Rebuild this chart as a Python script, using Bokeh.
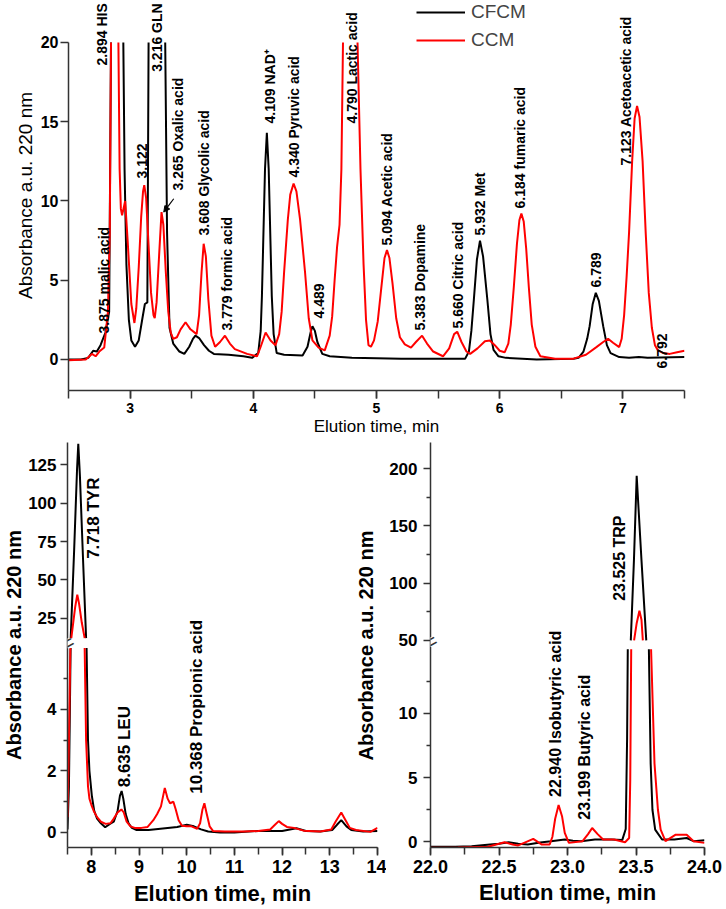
import math
from bokeh.plotting import figure
from bokeh.models import (Range1d, LinearAxis, SingleIntervalTicker, FixedTicker, ColumnDataSource,
                          LabelSet, Label, Arrow, NormalHead, PrintfTickFormatter)
from bokeh.layouts import column, row
from bokeh.embed import file_html
from bokeh.resources import INLINE
from bokeh.core.properties import value

NAN = float("nan")
FONT = "Liberation Sans"
AX = "#333333"
BLACK = "#000000"
RED = "#ff0000"

# ---------------- top panel data (elution time, absorbance) ----------------
top_cfcm = [(2.50, 0.00), (2.60, 0.00), (2.66, 0.10), (2.70, 0.55), (2.73, 0.50), (2.76, 0.90),
            (2.80, 1.70), (2.83, 3.00), (2.845, 20.0), (NAN, NAN),
            (2.945, 20.0), (2.955, 12.0), (2.97, 6.0), (2.99, 2.5), (3.01, 1.2), (3.04, 0.8),
            (3.07, 1.2), (3.10, 2.6), (3.12, 3.5), (3.14, 3.6), (3.15, 20.0), (NAN, NAN),
            (3.285, 20.0), (3.30, 8.0), (3.32, 2.0), (3.35, 1.0), (3.40, 0.5), (3.44, 0.35),
            (3.48, 0.8), (3.51, 1.3), (3.53, 1.5), (3.56, 1.35), (3.60, 0.9), (3.64, 0.55),
            (3.68, 0.35), (3.80, 0.30), (3.92, 0.20), (3.99, 0.10), (4.04, 0.4), (4.06, 1.8),
            (4.07, 4.0), (4.08, 7.2), (4.095, 12.0), (4.11, 14.3), (4.125, 12.0), (4.14, 7.2),
            (4.15, 4.0), (4.165, 1.6), (4.19, 0.4), (4.25, 0.3), (4.40, 0.25), (4.44, 0.8),
            (4.465, 1.7), (4.48, 2.1), (4.50, 1.8), (4.52, 1.1), (4.56, 0.35), (4.62, 0.2),
            (4.80, 0.1), (5.20, 0.05), (5.72, 0.05), (5.75, 0.5), (5.77, 1.8), (5.79, 3.75),
            (5.815, 6.3), (5.84, 7.5), (5.865, 6.5), (5.90, 3.75), (5.925, 1.6), (5.95, 0.6),
            (5.99, 0.2), (6.05, 0.1), (6.30, 0.0), (6.60, 0.05), (6.64, 0.1), (6.68, 0.5),
            (6.71, 1.3), (6.73, 2.1), (6.755, 3.5), (6.78, 4.2), (6.805, 3.7), (6.84, 2.1),
            (6.87, 0.9), (6.90, 0.4), (6.97, 0.15), (7.05, 0.1), (7.13, 0.15), (7.20, 0.1),
            (7.50, 0.15)]

top_ccm = [(2.50, -0.05), (2.64, 0.0), (2.69, 0.35), (2.72, 0.2), (2.75, 0.5), (2.79, 0.75),
           (2.82, 3.0), (2.835, 8.0), (2.845, 20.0), (NAN, NAN),
           (2.905, 20.0), (2.915, 12.0), (2.925, 9.5), (2.935, 9.1), (2.96, 10.0), (2.98, 7.5),
           (3.01, 3.5), (3.035, 2.3), (3.05, 3.2), (3.07, 5.8), (3.09, 9.0), (3.105, 10.6),
           (3.115, 11.0), (3.13, 10.2), (3.15, 7.2), (3.17, 4.2), (3.19, 2.8), (3.20, 2.6),
           (3.215, 3.6), (3.235, 6.5), (3.255, 9.3), (3.27, 8.5), (3.29, 5.5), (3.31, 3.0),
           (3.33, 1.7), (3.35, 1.3), (3.38, 1.4), (3.41, 1.9), (3.45, 2.35), (3.49, 1.9),
           (3.54, 1.6), (3.56, 2.8), (3.58, 5.5), (3.597, 7.3), (3.615, 6.5), (3.635, 3.8),
           (3.66, 1.5), (3.69, 0.8), (3.73, 1.1), (3.77, 1.5), (3.81, 1.0), (3.85, 0.65),
           (3.95, 0.35), (4.03, 0.2), (4.06, 0.8), (4.10, 1.7), (4.14, 1.2), (4.18, 0.9),
           (4.21, 1.6), (4.23, 3.0), (4.25, 5.5), (4.28, 8.8), (4.30, 10.4), (4.327, 11.1),
           (4.35, 10.6), (4.38, 8.8), (4.42, 5.5), (4.45, 2.6), (4.48, 1.2), (4.53, 0.75),
           (4.58, 0.57), (4.62, 1.5), (4.64, 2.7), (4.66, 5.0), (4.68, 7.1), (4.70, 8.5),
           (4.715, 12.0), (4.728, 20.0), (NAN, NAN),
           (4.846, 20.0), (4.87, 12.0), (4.895, 6.0), (4.915, 2.5), (4.935, 0.9), (4.955, 0.8),
           (4.98, 1.2), (5.01, 2.4), (5.04, 4.6), (5.065, 6.4), (5.085, 6.9), (5.105, 6.4),
           (5.13, 4.8), (5.16, 2.6), (5.19, 1.4), (5.23, 0.95), (5.28, 0.75), (5.32, 1.1),
           (5.37, 1.5), (5.41, 1.0), (5.46, 0.5), (5.54, 0.2), (5.59, 0.7), (5.63, 1.6),
           (5.655, 1.75), (5.69, 1.1), (5.73, 0.5), (5.76, 0.35), (5.82, 0.7), (5.88, 1.15),
           (5.92, 1.2), (5.96, 0.9), (6.00, 0.55), (6.04, 0.45), (6.07, 1.0), (6.09, 2.2),
           (6.115, 4.6), (6.14, 7.3), (6.16, 8.8), (6.176, 9.2), (6.195, 8.7), (6.215, 7.0),
           (6.236, 4.6), (6.26, 2.2), (6.29, 0.8), (6.33, 0.2), (6.45, 0.05), (6.60, 0.05),
           (6.70, 0.3), (6.785, 0.78), (6.84, 1.1), (6.88, 1.3), (6.92, 1.05), (6.97, 0.78),
           (6.99, 1.3), (7.01, 2.8), (7.03, 5.2), (7.05, 8.0), (7.075, 12.5), (7.095, 15.2),
           (7.115, 16.0), (7.135, 15.3), (7.16, 12.5), (7.185, 8.0), (7.21, 4.2), (7.235, 2.0),
           (7.26, 0.9), (7.285, 0.57), (7.33, 0.4), (7.38, 0.35), (7.44, 0.45), (7.50, 0.55)]

top_label_text = ["3.875 malic acid", "2.894 HIS", "3.122", "3.216 GLN", "3.265 Oxalic acid",
                  "3.608 Glycolic acid", "3.779 formic acid", "4.109 NAD\u207a", "4.340 Pyruvic acid",
                  "4.489", "4.790 Lactic acid", "5.094 Acetic acid", "5.383 Dopamine",
                  "5.660 Citric acid", "5.932 Met", "6.184 fumaric acid", "6.789",
                  "7.123 Acetoacetic acid", "6.792"]
top_label_t = [2.792, 2.773, 3.098, 3.219, 3.392, 3.597, 3.787, 4.133, 4.327, 4.530, 4.801,
               5.082, 5.357, 5.663, 5.839, 6.163, 6.785, 7.028, 7.320]
top_label_a = [1.64, 18.55, 11.42, 18.15, 10.66, 7.82, 1.83, 14.89, 11.48, 2.59, 14.89,
               7.19, 1.83, 1.96, 7.82, 9.53, 4.54, 12.24, -0.57]
oxalic_arrow = (3.354, 10.14, 3.273, 9.30)

# ---------------- bottom-left panel data (7.5 - 14 min) ----------------
bl_low_cfcm = [(7.50, 0.10), (7.53, 1.5), (7.55, 4.0), (7.565, 6.0), (NAN, NAN),
               (7.90, 6.0), (7.93, 3.0), (7.96, 2.0), (8.01, 1.2), (8.06, 0.7), (8.12, 0.45),
               (8.20, 0.3), (8.29, 0.17), (8.39, 0.28), (8.47, 0.35), (8.55, 0.7), (8.60, 1.2),
               (8.635, 1.35), (8.67, 1.1), (8.72, 0.6), (8.78, 0.3), (8.85, 0.15), (8.95, 0.08),
               (9.2, 0.08), (9.5, 0.13), (9.8, 0.18), (10.0, 0.25), (10.15, 0.2), (10.3, 0.1),
               (10.45, 0.03), (10.7, 0.0), (11.0, 0.0), (11.5, 0.05), (12.0, 0.05), (12.3, 0.14),
               (12.5, 0.05), (12.8, 0.03), (13.05, 0.08), (13.15, 0.25), (13.24, 0.4),
               (13.35, 0.2), (13.45, 0.08), (13.7, 0.03), (14.0, 0.05)]
bl_low_ccm = [(7.50, 0.5), (7.52, 2.0), (7.545, 4.5), (7.56, 6.0), (NAN, NAN),
              (7.86, 6.0), (7.89, 3.0), (7.93, 1.5), (7.96, 1.1), (8.00, 0.9), (8.05, 0.7),
              (8.12, 0.5), (8.20, 0.35), (8.30, 0.28), (8.40, 0.3), (8.47, 0.45), (8.55, 0.65),
              (8.63, 0.75), (8.68, 0.65), (8.74, 0.35), (8.82, 0.2), (8.91, 0.15), (9.05, 0.15),
              (9.18, 0.18), (9.30, 0.4), (9.38, 0.6), (9.46, 0.85), (9.54, 1.45), (9.60, 1.1),
              (9.65, 0.95), (9.72, 1.0), (9.77, 0.75), (9.83, 0.4), (9.90, 0.22), (10.0, 0.2),
              (10.1, 0.2), (10.22, 0.12), (10.28, 0.3), (10.33, 0.75), (10.37, 0.95),
              (10.42, 0.6), (10.48, 0.2), (10.55, 0.05), (10.8, 0.03), (11.2, 0.03),
              (11.5, 0.05), (11.75, 0.1), (11.85, 0.25), (11.93, 0.37), (12.0, 0.28),
              (12.1, 0.18), (12.25, 0.15), (12.45, 0.06), (12.8, 0.03), (13.03, 0.1),
              (13.12, 0.35), (13.24, 0.65), (13.33, 0.4), (13.42, 0.15), (13.55, 0.08),
              (13.85, 0.02), (14.0, 0.15)]
bl_up_cfcm = [(7.567, 12.0), (7.64, 70.0), (7.70, 122.0), (7.726, 138.8), (7.76, 118.0),
              (7.83, 60.0), (7.89, 12.0)]
bl_up_ccm = [(7.58, 12.0), (7.66, 32.0), (7.705, 40.3), (7.74, 35.0), (7.80, 22.0), (7.86, 12.0)]
bl_low_ticks = [0, 2, 4]
bl_low_minor = [1, 3, 5]
bl_up_ticks = [25, 50, 75, 100, 125]
bl_low_label_text = ["8.635 LEU", "10.368 Propionic acid"]
bl_low_label_t = [8.687, 10.212]
bl_low_label_a = [1.47, 1.26]
bl_up_label_text = ["7.718 TYR"]
bl_up_label_t = [8.047]
bl_up_label_a = [63.7]

# ---------------- bottom-right panel data (22 - 24 min) ----------------
br_low_cfcm = [(22.00, -0.38), (22.18, -0.38), (22.30, -0.35), (22.435, -0.2), (22.50, -0.15),
               (22.57, -0.03), (22.64, -0.15), (22.71, -0.2), (22.80, -0.05), (22.88, 0.05),
               (22.98, 0.18), (23.04, 0.08), (23.10, 0.05), (23.20, 0.18), (23.32, 0.18),
               (23.40, 0.15), (23.425, 1.0), (23.435, 8.0), (23.44, 15.0), (NAN, NAN),
               (23.594, 15.0), (23.607, 6.1), (23.62, 2.5), (23.64, 0.95), (23.69, 0.18),
               (23.78, 0.18), (23.87, 0.3), (23.92, 0.05), (24.00, 0.12)]
br_low_ccm = [(22.00, -0.46), (22.20, -0.44), (22.42, -0.38), (22.48, -0.2), (22.54, -0.03),
              (22.60, -0.2), (22.64, -0.28), (22.70, 0.0), (22.75, 0.23), (22.81, -0.2),
              (22.87, -0.2), (22.89, 0.4), (22.91, 1.8), (22.935, 2.87), (22.96, 2.0),
              (22.98, 0.7), (23.01, -0.08), (23.11, 0.05), (23.15, 0.6), (23.18, 1.08),
              (23.22, 0.6), (23.26, 0.18), (23.34, 0.18), (23.42, -0.03), (23.45, 0.3),
              (23.458, 4.8), (23.465, 15.0), (NAN, NAN), (23.61, 15.0), (23.635, 6.1),
              (23.66, 2.5), (23.68, 0.95), (23.715, 0.05), (23.79, 0.56), (23.87, 0.56),
              (23.92, 0.05), (24.00, -0.08)]
br_up_cfcm = [(23.462, 50.0), (23.485, 120.0), (23.505, 193.6), (23.54, 120.0), (23.575, 50.0)]
br_up_ccm = [(23.486, 50.0), (23.505, 65.0), (23.525, 75.9), (23.54, 68.0), (23.55, 50.0)]
br_low_ticks = [0, 5, 10]
br_low_minor = [2.5, 7.5, 12.5]
br_up_ticks = [50, 100, 150, 200]
br_up_minor = [75, 125, 175]
br_low_label_text = ["22.940 Isobutyric acid", "23.199 Butyric acid"]
br_low_label_t = [22.913, 23.123]
br_low_label_a = [3.5, 1.72]
br_up_label_text = ["23.525 TRP"]
br_up_label_t = [23.377]
br_up_label_a = [84.5]

Y_TITLE = "Absorbance a.u. 220 nm"
X_TITLE = "Elution time, min"


def xs(pts):
    return [p[0] for p in pts]


def ys(pts):
    return [p[1] for p in pts]


def up_to_low(v, lo, up):
    """Position (in the lower range) of a value of the upper range: both fill the same frame."""
    return lo.start + (v - up.start) * (lo.end - lo.start) / (up.end - up.start)


def style_axis(ax, tick_size, title_size=None, title_bold=False, tick_out=8, minor_out=0,
               label_standoff=3, title_standoff=3):
    ax.axis_line_color = AX
    ax.axis_line_width = 1.5
    ax.major_tick_line_color = AX
    ax.major_tick_line_width = 1.5
    ax.major_tick_in = 0
    ax.major_tick_out = tick_out
    ax.minor_tick_in = 0
    ax.minor_tick_out = minor_out
    ax.minor_tick_line_width = 1.5
    ax.minor_tick_line_color = AX if minor_out else None
    ax.major_label_text_font = FONT
    ax.major_label_text_font_size = tick_size
    ax.major_label_text_font_style = "bold"
    ax.major_label_text_color = BLACK
    ax.major_label_standoff = label_standoff
    if title_size:
        ax.axis_label_text_font = FONT
        ax.axis_label_text_font_size = title_size
        ax.axis_label_text_font_style = "bold" if title_bold else "normal"
        ax.axis_label_text_color = BLACK
        ax.axis_label_standoff = title_standoff


def peak_labels(fig, texts, ts, As, size, y_range_name="default"):
    src = ColumnDataSource(dict(x=ts, y=As, text=texts))
    ls = LabelSet(x="x", y="y", text="text", source=src, angle=math.pi / 2,
                  text_align="left", text_baseline="middle",
                  text_font=value(FONT), text_font_style=value("bold"),
                  text_font_size=value(size), text_color=BLACK,
                  y_range_name=y_range_name)
    fig.add_layout(ls)


def break_mark(fig, x, y):
    fig.add_layout(Label(x=x, y=y, text="  ", text_align="center", text_baseline="middle",
                         text_font=FONT, text_font_size="9px", background_fill_color="white",
                         background_fill_alpha=1.0))
    fig.add_layout(Label(x=x, y=y, text="=", angle=0.5, text_align="center",
                         text_baseline="middle", text_font=FONT, text_font_size="22px",
                         text_color=AX))


# ---------------- top figure ----------------
top = figure(width=726, height=438, x_range=Range1d(2.5, 7.5), y_range=Range1d(-1.96, 22.65),
             x_axis_type=None, y_axis_type=None, output_backend="svg", toolbar_location=None,
             min_border_left=68, min_border_right=42, min_border_top=0, min_border_bottom=48)
top.outline_line_color = None

tx = LinearAxis(ticker=SingleIntervalTicker(interval=1, num_minor_ticks=2), axis_label=X_TITLE)
style_axis(tx, "14px", "17px", False, tick_out=8, minor_out=8, label_standoff=4, title_standoff=1)
top.add_layout(tx, "below")
ty = LinearAxis(ticker=SingleIntervalTicker(interval=5, num_minor_ticks=0), bounds=(-1.96, 20),
                axis_label=Y_TITLE)
style_axis(ty, "16px", "19px", False, tick_out=8, label_standoff=2, title_standoff=2)
top.add_layout(ty, "left")

top.line(xs(top_cfcm), ys(top_cfcm), line_color=BLACK, line_width=2, legend_label="CFCM")
top.line(xs(top_ccm), ys(top_ccm), line_color=RED, line_width=2, legend_label="CCM")
peak_labels(top, top_label_text, top_label_t, top_label_a, "14px")
top.add_layout(Arrow(end=NormalHead(size=6, fill_color=BLACK, line_color=BLACK),
                     x_start=oxalic_arrow[0], y_start=oxalic_arrow[1],
                     x_end=oxalic_arrow[2], y_end=oxalic_arrow[3],
                     line_color=BLACK, line_width=1.2))

leg = top.legend[0]
leg.location = (348, 339)
leg.border_line_color = None
leg.background_fill_alpha = 0
leg.padding = 0
leg.margin = 0
leg.spacing = 6
leg.glyph_width = 49
leg.glyph_height = 20
leg.label_height = 20
leg.label_standoff = 6
leg.label_text_font = FONT
leg.label_text_font_size = "19px"

# ---------------- bottom-left figure ----------------
bl_lo = Range1d(-0.488, 12.68)
bl_up = Range1d(-124.6, 139.6)
bl = figure(width=386, height=471, x_range=Range1d(7.5, 14), y_range=bl_lo,
            x_axis_type=None, y_axis_type=None, output_backend="svg", toolbar_location=None,
            min_border_left=62, min_border_right=9, min_border_top=4, min_border_bottom=62)
bl.outline_line_color = None
bl.extra_y_ranges = {"up": bl_up}

blx = LinearAxis(ticker=SingleIntervalTicker(interval=1, num_minor_ticks=2), axis_label=X_TITLE)
style_axis(blx, "18px", "22px", True, tick_out=8, minor_out=7, label_standoff=4, title_standoff=5)
bl.add_layout(blx, "below")
bl_up_pos = [up_to_low(v, bl_lo, bl_up) for v in bl_up_ticks]
bly = LinearAxis(ticker=FixedTicker(ticks=bl_low_ticks + bl_up_pos, minor_ticks=bl_low_minor),
                 axis_label=Y_TITLE)
bly.major_label_overrides = {p: str(v) for p, v in zip(bl_up_pos, bl_up_ticks)}
style_axis(bly, "17px", "20px", True, tick_out=7, minor_out=4, label_standoff=4, title_standoff=0)
bl.add_layout(bly, "left")

bl.line(xs(bl_low_cfcm), ys(bl_low_cfcm), line_color=BLACK, line_width=2)
bl.line(xs(bl_up_cfcm), ys(bl_up_cfcm), line_color=BLACK, line_width=2, y_range_name="up")
bl.line(xs(bl_low_ccm), ys(bl_low_ccm), line_color=RED, line_width=2)
bl.line(xs(bl_up_ccm), ys(bl_up_ccm), line_color=RED, line_width=2, y_range_name="up")
peak_labels(bl, bl_low_label_text, bl_low_label_t, bl_low_label_a, "17px")
peak_labels(bl, bl_up_label_text, bl_up_label_t, bl_up_label_a, "17px", "up")
break_mark(bl, 7.5, 6.15)
# y-axis title of the right-hand panel (it sits over this panel's area in the original)
bl.add_layout(Label(x=13.75, y=6.08, text=Y_TITLE, angle=math.pi / 2, text_align="center",
                    text_baseline="middle", text_font=FONT, text_font_size="20px",
                    text_font_style="bold", text_color=BLACK))

# ---------------- bottom-right figure ----------------
br_lo = Range1d(-0.44, 31.1)
br_up = Range1d(-130.8, 222.7)
br = figure(width=340, height=471, x_range=Range1d(22.0, 24.0), y_range=br_lo,
            x_axis_type=None, y_axis_type=None, output_backend="svg", toolbar_location=None,
            min_border_left=42, min_border_right=22, min_border_top=0, min_border_bottom=61)
br.outline_line_color = None
br.extra_y_ranges = {"up": br_up}

brx = LinearAxis(ticker=SingleIntervalTicker(interval=0.5, num_minor_ticks=2), axis_label=X_TITLE,
                 formatter=PrintfTickFormatter(format="%.1f"))
style_axis(brx, "18px", "22px", True, tick_out=8, minor_out=7, label_standoff=4, title_standoff=4)
br.add_layout(brx, "below")
br_up_pos = [up_to_low(v, br_lo, br_up) for v in br_up_ticks]
br_up_minor_pos = [up_to_low(v, br_lo, br_up) for v in br_up_minor]
bry = LinearAxis(ticker=FixedTicker(ticks=br_low_ticks + br_up_pos,
                                    minor_ticks=br_low_minor + br_up_minor_pos))
bry.major_label_overrides = {p: str(v) for p, v in zip(br_up_pos, br_up_ticks)}
style_axis(bry, "17px", tick_out=7, minor_out=4, label_standoff=6)
br.add_layout(bry, "left")

br.line(xs(br_low_cfcm), ys(br_low_cfcm), line_color=BLACK, line_width=2)
br.line(xs(br_up_cfcm), ys(br_up_cfcm), line_color=BLACK, line_width=2, y_range_name="up")
br.line(xs(br_low_ccm), ys(br_low_ccm), line_color=RED, line_width=2)
br.line(xs(br_up_ccm), ys(br_up_ccm), line_color=RED, line_width=2, y_range_name="up")
peak_labels(br, br_low_label_text, br_low_label_t, br_low_label_a, "16px")
peak_labels(br, br_up_label_text, br_up_label_t, br_up_label_a, "16px", "up")
break_mark(br, 22.0, 15.56)

layout = column(top, row(bl, br))
open("out.html", "w").write(file_html(layout, INLINE))
